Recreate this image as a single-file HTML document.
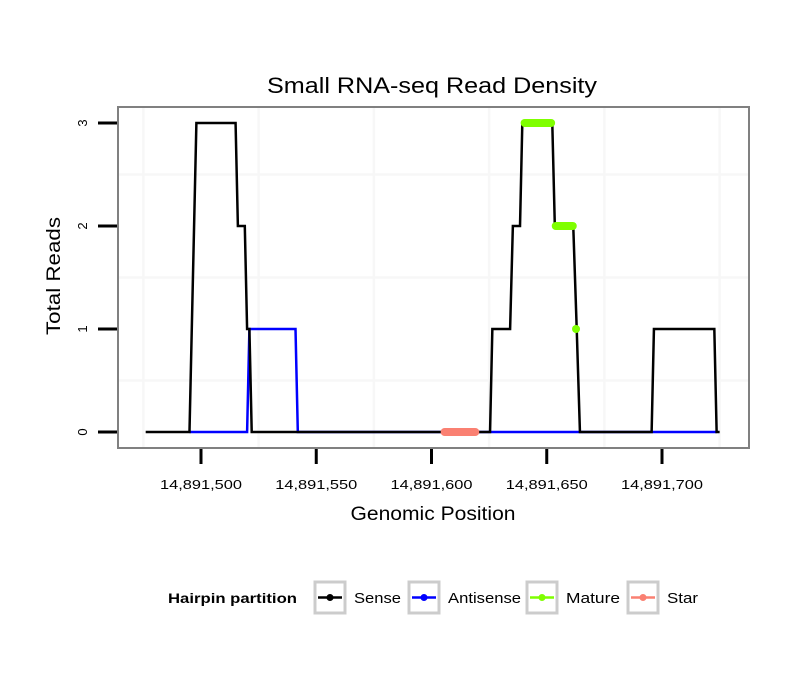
<!DOCTYPE html>
<html><head><meta charset="utf-8"><style>
body{margin:0;background:#fff}
svg text{font-family:"Liberation Sans",sans-serif}
</style></head><body>
<svg id="chart" width="810" height="690"></svg>
<script>
const senseX=[476,495,498,515,516,519,520,521,522,625.4,626.4,634.1,635.3,638.4,639.4,652.4,653.5,661.5,663,664.4,695.5,696.5,722.7,723.7,725];
const senseY=[0,0,3,3,2,2,1,1,0,0,1,1,2,2,3,3,2,2,1,0,0,1,1,0,0];
const antiX=[495,520,521,541,542,625,723.7];
const antiY=[0,0,1,1,0,0,0];
const matureSegs=[[640.4,651.9,3],[653.9,661.3,2],[162.7+500,162.7+500,1]];
const starSegs=[[605.7,619,0]];
const xTicks=[500,550,600,650,700];
const xTickLabels=["14,891,500","14,891,550","14,891,600","14,891,650","14,891,700"];
const yTicks=[0,1,2,3];
const xGrid=[475,525,575,625,675,725];
const yGrid=[0.5,1.5,2.5];
const legendNames=["Sense","Antisense","Mature","Star"];
const legendColors=["#000","#0000ff","#7fff00","#fa8072"];

const NS="http://www.w3.org/2000/svg";
const svg=document.getElementById('chart');
const px=v=>201+(v-500)*2.305;
const py=v=>432-v*103;
function el(t,a,p){const e=document.createElementNS(NS,t);for(const k in a)e.setAttribute(k,a[k]);(p||svg).appendChild(e);return e;}

let t=el('text',{x:432,y:93,'font-size':22,'text-anchor':'middle',fill:'#000',textLength:330,lengthAdjust:'spacingAndGlyphs'});t.textContent='Small RNA-seq Read Density';



const bg=el('rect',{x:118,y:107,width:631,height:341,fill:'#fff'});


xGrid.forEach(v=>{const g=el('line',{x1:px(v),x2:px(v),y1:108,y2:447,stroke:'#f7f7f7','stroke-width':2.5});

});
yGrid.forEach(v=>{const g=el('line',{x1:119,x2:748,y1:py(v),y2:py(v),stroke:'#f7f7f7','stroke-width':2.5});

});

function poly(xs,ys,col,name){const pts=xs.map((x,i)=>px(x)+','+py(ys[i])).join(' ');
const p=el('polyline',{points:pts,fill:'none',stroke:col,'stroke-width':2.5,'stroke-linejoin':'miter'});

}
poly(antiX,antiY,'#0000ff','antisense-line');
poly(senseX,senseY,'#000','sense-line');
starSegs.forEach(s=>{const l=el('line',{x1:px(s[0]),x2:px(s[1]),y1:py(s[2]),y2:py(s[2]),stroke:'#fa8072','stroke-width':8,'stroke-linecap':'round'});

});
matureSegs.forEach(s=>{const l=el('line',{x1:px(s[0]),x2:px(s[1]),y1:py(s[2]),y2:py(s[2]),stroke:'#7fff00','stroke-width':8,'stroke-linecap':'round'});

});

const br=el('rect',{x:118,y:107,width:631,height:341,fill:'none',stroke:'#808080','stroke-width':2});



xTicks.forEach((v,i)=>{const l=el('line',{x1:px(v),x2:px(v),y1:449,y2:464,stroke:'#000','stroke-width':3});


const tx=el('text',{x:px(v),y:489,'font-size':13,'text-anchor':'middle',fill:'#000',textLength:82,lengthAdjust:'spacingAndGlyphs'});tx.textContent=xTickLabels[i];

});
yTicks.forEach(v=>{const l=el('line',{x1:98,x2:117,y1:py(v),y2:py(v),stroke:'#000','stroke-width':3});


const tx=el('text',{x:0,y:0,'font-size':13,'text-anchor':'middle',fill:'#000',transform:`translate(87,${py(v)}) rotate(-90)`});tx.textContent=v;

});

t=el('text',{x:433,y:520,'font-size':19,'text-anchor':'middle',textLength:165,lengthAdjust:'spacingAndGlyphs'});t.textContent='Genomic Position';


t=el('text',{x:0,y:0,'font-size':19,'text-anchor':'middle',transform:'translate(60,276) rotate(-90)',textLength:118,lengthAdjust:'spacingAndGlyphs'});t.textContent='Total Reads';



t=el('text',{x:168,y:603,'font-size':14,'font-weight':'bold',textLength:129,lengthAdjust:'spacingAndGlyphs'});t.textContent='Hairpin partition';


const boxX=[315,409,527,628];
const labelW=[47,73,54,31];
legendNames.forEach((n,i)=>{const g=el('g',{});


el('rect',{x:boxX[i],y:582,width:30,height:31,fill:'#fff',stroke:'#cccccc','stroke-width':3},g);
el('line',{x1:boxX[i]+3,x2:boxX[i]+27,y1:597.5,y2:597.5,stroke:legendColors[i],'stroke-width':2.5},g);
el('circle',{cx:boxX[i]+15,cy:597.5,r:3.5,fill:legendColors[i]},g);
const tx=el('text',{x:boxX[i]+39,y:603,'font-size':15,textLength:labelW[i],lengthAdjust:'spacingAndGlyphs'},g);tx.textContent=n;});
</script>
</body></html>
